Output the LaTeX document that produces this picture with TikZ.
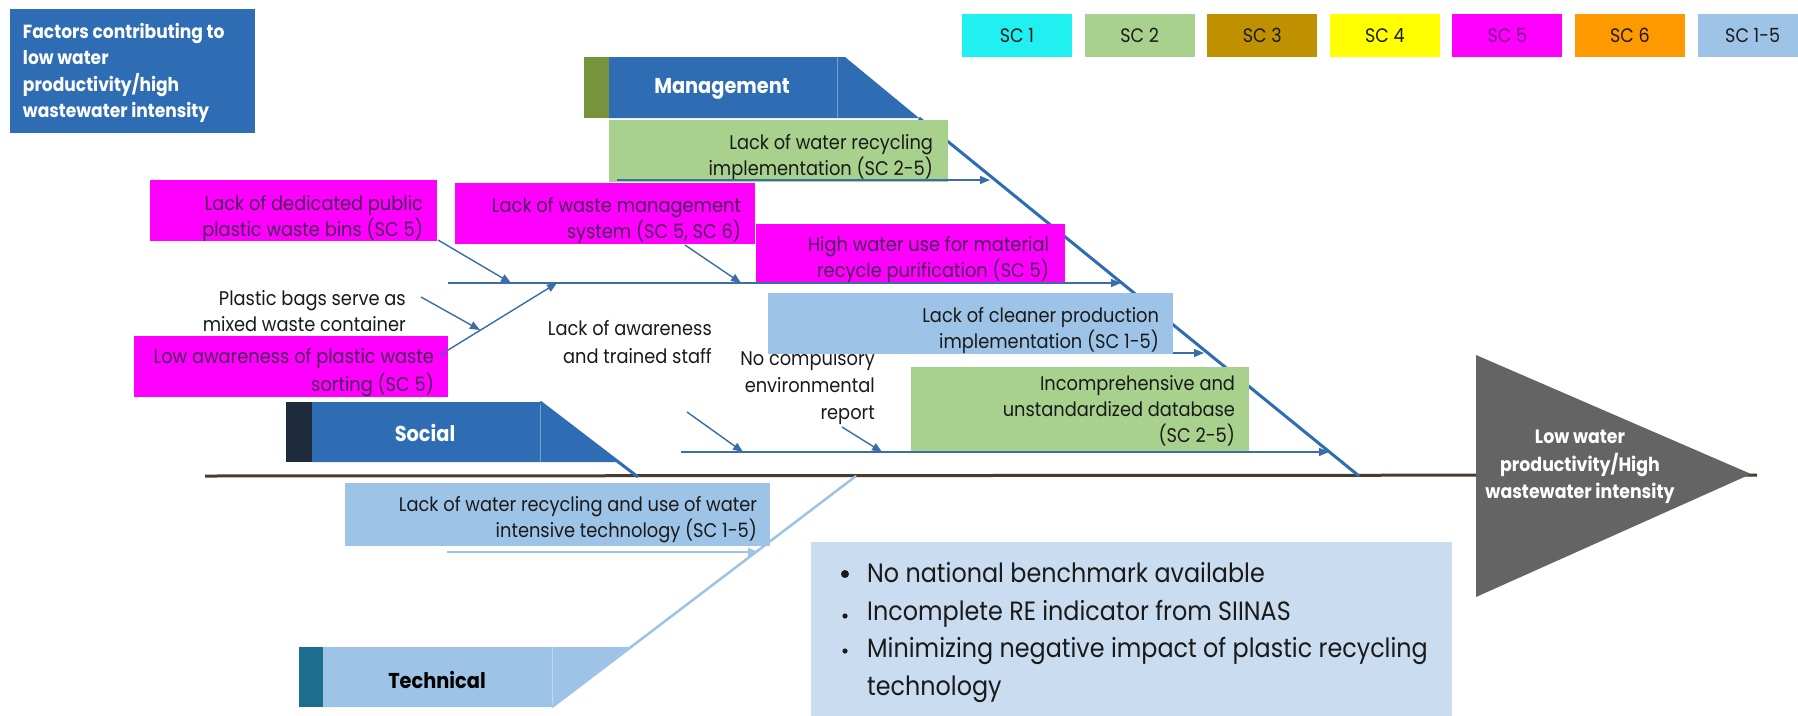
\documentclass[tikz,border=0pt]{standalone}
\usepackage{fontspec}
\setmainfont{Poppins}[FakeStretch=0.9]
\usetikzlibrary{arrows.meta}
\definecolor{hdrblue}{HTML}{2E6DB4}
\definecolor{mgolive}{HTML}{77933C}
\definecolor{socnavy}{HTML}{1E2B3C}
\definecolor{tcteal}{HTML}{1D6D8F}
\definecolor{scone}{HTML}{20F0F0}
\definecolor{sctwo}{HTML}{A9D18E}
\definecolor{scthree}{HTML}{BF9000}
\definecolor{scfour}{HTML}{FFFF00}
\definecolor{scfive}{HTML}{FF00FF}
\definecolor{scsix}{HTML}{FF9900}
\definecolor{scall}{HTML}{9DC3E6}
\definecolor{notebg}{HTML}{C9DCF0}
\definecolor{arrblue}{HTML}{3A6EA8}
\definecolor{spinec}{HTML}{4A3B2C}
\definecolor{effgray}{HTML}{646464}
\definecolor{pinktxt}{HTML}{4A1E56}
\definecolor{legpurple}{HTML}{7A1A8A}
\definecolor{txtc}{HTML}{1A1A1A}
\newcommand\bodyf{\fontsize{19.8}{26}\selectfont}
\newcommand\hdrf{\fontsize{21.5}{24}\selectfont\bfseries}
\newcommand\titf{\fontsize{19}{26.5}\selectfont\bfseries}
\newcommand\legf{\fontsize{19.5}{22}\selectfont}
\newcommand\notef{\fontsize{26.5}{30}\selectfont}
\begin{document}
\begin{tikzpicture}[x=1pt,y=-1pt,
  fillbox/.style={rectangle, inner sep=0pt, draw=none},
  txtr/.style={inner sep=0pt, align=right, font=\bodyf, text=txtc},
  hdr/.style={inner sep=0pt, font=\hdrf, text=white},
  legend/.style={rectangle, inner sep=0pt, minimum width=110, minimum height=43, font=\legf},
  arr/.style={draw=arrblue, line width=1.4pt, -{Triangle[length=10pt,width=8pt]}},
  bone/.style={line width=3pt},
  notetxt/.style={inner sep=0pt, anchor=base west, font=\notef, text=txtc}
]
\useasboundingbox (0,0) rectangle (1798,715);
\fill[white] (0,0) rectangle (1798,715);

% ---------- title ----------
\node[fillbox, fill=hdrblue, minimum width=245, minimum height=124] (title) at (132.5,71) {};
\node[inner sep=0pt, anchor=west, align=left, font=\titf, text=white] (titletxt) at ([xshift=13pt,yshift=-2pt]title.west)
  {Factors contributing to\\low water\\productivity/high\\wastewater intensity};

% ---------- legend ----------
\foreach \i/\c/\t/\tc in {0/scone/SC 1/txtc, 1/sctwo/SC 2/txtc, 2/scthree/SC 3/txtc, 3/scfour/SC 4/txtc, 4/scfive/SC 5/legpurple, 5/scsix/SC 6/txtc, 6/scall/SC 1-5/txtc}
  \node[legend, fill=\c, text=\tc] (leg\i) at (1017+122.6*\i,35.5) {\t};

% ---------- spine and effect ----------
\coordinate (spstart) at (205,476);
\coordinate (spend) at (1757,475);
\draw[spinec, line width=3pt] (spstart) -- (spend);
\fill[effgray] (1476,355) -- (1751,474) -- (1476,597) -- cycle;
\node[inner sep=0pt, align=center, font=\fontsize{19.3}{27.5}\selectfont\bfseries, text=white] (effect) at (1580,467)
  {Low water\\productivity/High\\wastewater intensity};

% ---------- headers and bones ----------
\fill[mgolive] (584,57) rectangle (609,118);
\fill[hdrblue] (609,57) -- (845,57) -- (919,118) -- (609,118) -- cycle;
\draw[white!35!hdrblue, line width=0.6pt] (837,57) -- (837,118);
\node[hdr] (mgmt) at (722,89) {Management};
\coordinate (mgtip) at (919,118);
\coordinate (mgend) at (1359,476);
\draw[bone, hdrblue] (mgtip) -- (mgend);

\fill[socnavy] (286,402) rectangle (312,462);
\fill[hdrblue] (312,402) -- (540,402) -- (617,462) -- (312,462) -- cycle;
\draw[white!35!hdrblue, line width=0.6pt] (540,402) -- (540,462);
\node[hdr] (social) at (425,433) {Social};
\coordinate (soctip) at (540,402);
\coordinate (socend) at (638,477);
\draw[bone, hdrblue] (soctip) -- (socend);

\fill[tcteal] (299,647) rectangle (323,707);
\fill[scall] (323,647) -- (629,647) -- (552,707) -- (323,707) -- cycle;
\draw[white!35!scall, line width=0.6pt] (552,647) -- (552,707);
\node[hdr, text=black] (tech) at (437,680) {Technical};
\coordinate (tcbase) at (552,707);
\coordinate (tcend) at (856,476);
\draw[bone, scall, line width=2.5pt] (tcbase) -- (tcend);

% ---------- free texts (behind boxes) ----------
\node[txtr, anchor=east, font=\fontsize{19.8}{26}\selectfont] (bags) at (406,311) {Plastic bags serve as\\mixed waste container};
\node[txtr, anchor=east, font=\fontsize{19.8}{28}\selectfont] (aware) at (712,342) {Lack of awareness\\and trained staff};
\node[txtr, anchor=east, font=\fontsize{19.8}{27}\selectfont] (report) at (875,388) {No compulsory\\environmental\\report};

% ---------- cause boxes ----------
\node[fillbox, fill=sctwo, minimum width=339, minimum height=62] (g1) at (778.5,151) {};
\node[txtr, anchor=east] (g1t) at ([xshift=-15pt,yshift=-7pt]g1.east) {Lack of water recycling\\implementation (SC 2-5)};

\node[fillbox, fill=scfive, minimum width=287, minimum height=61] (p1) at (293.5,210.5) {};
\node[txtr, anchor=east, text=pinktxt] (p1t) at ([xshift=-14pt,yshift=-8pt]p1.east) {Lack of dedicated public\\plastic waste bins (SC 5)};

\node[fillbox, fill=scfive, minimum width=300, minimum height=61] (p2) at (605,213.5) {};
\node[txtr, anchor=east, text=pinktxt] (p2t) at ([xshift=-14pt,yshift=-7pt]p2.east) {Lack of waste management\\system (SC 5, SC 6)};

\node[fillbox, fill=scfive, minimum width=309, minimum height=59] (p3) at (910.5,253.5) {};
\node[txtr, anchor=east, text=pinktxt] (p3t) at ([xshift=-16pt,yshift=-6pt]p3.east) {High water use for material\\recycle purification (SC 5)};

\node[fillbox, fill=scfive, minimum width=314, minimum height=61] (p4) at (291,366.5) {};
\node[txtr, anchor=east, text=pinktxt, font=\fontsize{19.8}{28}\selectfont] (p4t) at ([xshift=-14pt,yshift=-6pt]p4.east) {Low awareness of plastic waste\\sorting (SC 5)};

\node[fillbox, fill=scall, minimum width=405, minimum height=61] (b1) at (970.5,323.5) {};
\node[txtr, anchor=east] (b1t) at ([xshift=-14pt,yshift=-7pt]b1.east) {Lack of cleaner production\\implementation (SC 1-5)};

\node[fillbox, fill=sctwo, minimum width=338, minimum height=85] (g2) at (1080,409.5) {};
\node[txtr, anchor=east] (g2t) at ([xshift=-14pt,yshift=-1pt]g2.east) {Incomprehensive and\\unstandardized database\\(SC 2-5)};

\node[fillbox, fill=scall, minimum width=425, minimum height=63] (b2) at (557.5,514.5) {};
\node[txtr, anchor=east] (b2t) at ([xshift=-13pt,yshift=-5pt]b2.east) {Lack of water recycling and use of water\\intensive technology (SC 1-5)};

% ---------- notes ----------
\node[fillbox, fill=notebg, minimum width=641, minimum height=180] (notes) at (1131.5,632) {};
\fill[txtc] (845,574) circle (4pt);
\fill[txtc] (845,616) circle (2.6pt);
\fill[txtc] (845,651) circle (2.6pt);
\node[notetxt] (n1) at (867,582) {No national benchmark available};
\node[notetxt] (n2) at (867,620) {Incomplete RE indicator from SIINAS};
\node[notetxt] (n3) at (867,657) {Minimizing negative impact of plastic recycling};
\node[notetxt] (n4) at (867,695) {technology};

% ---------- small arrows ----------
\coordinate (a1s) at (438,240);  \coordinate (a1e) at (511,283);
\coordinate (a2s) at (440,355);  \coordinate (a2e) at (557,283);
\coordinate (a3s) at (421,297);  \coordinate (a3e) at (480,330);
\coordinate (a4s) at (685,245);  \coordinate (a4e) at (741,283);
\coordinate (h1s) at (448,283);  \coordinate (h1e) at (1121,283);
\coordinate (a6s) at (617,180);  \coordinate (a6e) at (990,180);
\coordinate (a7s) at (1173,353); \coordinate (a7e) at (1204,353);
\coordinate (h2s) at (681,452);  \coordinate (h2e) at (1329,452);
\coordinate (a9s) at (687,412);  \coordinate (a9e) at (743,452);
\coordinate (a10s) at (842,427); \coordinate (a10e) at (882,452);
\coordinate (a11s) at (447,552); \coordinate (a11e) at (758,552);

\draw[arr] (h1s) -- (h1e);
\draw[arr] (a1s) -- (a1e);
\draw[arr] (a2s) -- (a2e);
\draw[arr] (a3s) -- (a3e);
\draw[arr] (a4s) -- (a4e);
\draw[arr] (a6s) -- (a6e);
\draw[arr] (a7s) -- (a7e);
\draw[arr] (h2s) -- (h2e);
\draw[arr] (a9s) -- (a9e);
\draw[arr] (a10s) -- (a10e);
\draw[arr, draw=scall, line width=2pt] (a11s) -- (a11e);
\end{tikzpicture}
\end{document}
